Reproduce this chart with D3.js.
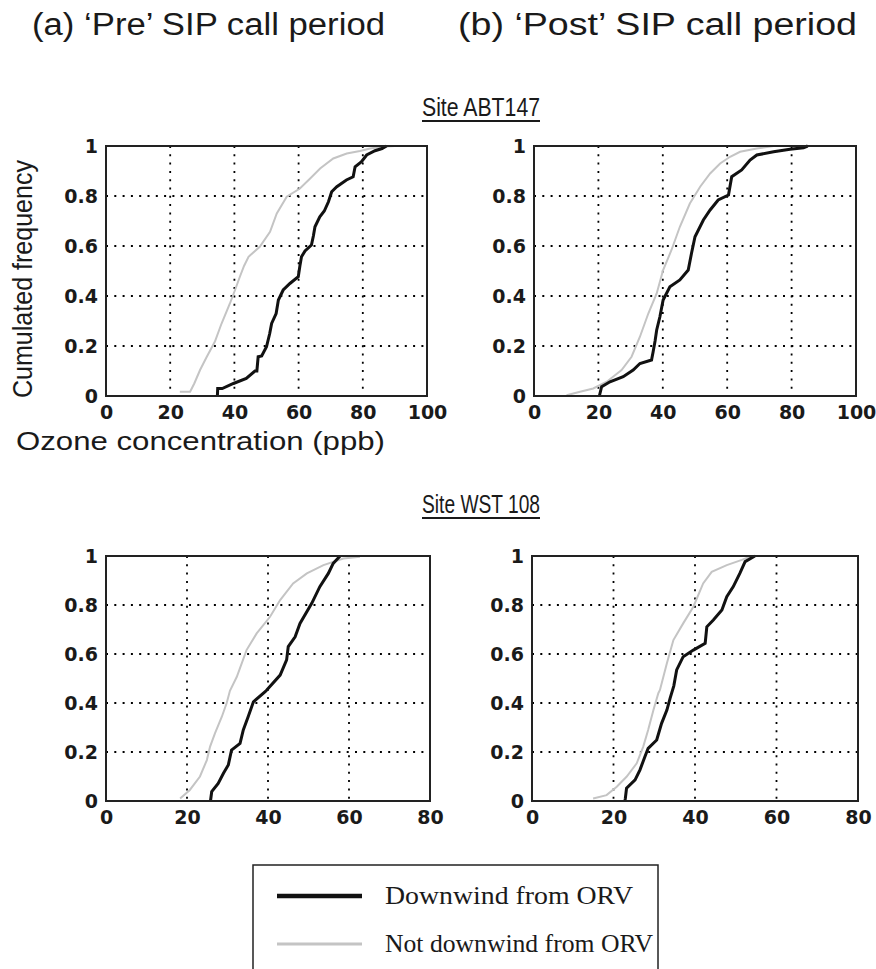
<!DOCTYPE html>
<html><head><meta charset="utf-8">
<script src="https://cdn.jsdelivr.net/npm/d3@7"></script>
<style>
html,body{margin:0;padding:0;background:#fff;}
svg{display:block;}
</style></head>
<body>
<svg id="chart" width="876" height="969"></svg>
<script>
// ---------- DATA ----------
const periodTitles = ["(a) \u2018Pre\u2019 SIP call period", "(b) \u2018Post\u2019 SIP call period"];
const siteTitles = ["Site ABT147", "Site WST 108"];
const seriesNames = ["Downwind from ORV", "Not downwind from ORV"];
const xTicksABT = [0, 20, 40, 60, 80, 100];
const xTicksWST = [0, 20, 40, 60, 80];
const yTicks = [0, 0.2, 0.4, 0.6, 0.8, 1];

// Cumulated frequency curves: [ozone ppb, cumulated frequency]
const preABT_down = [[34.7,0],[34.8,0.03],[36.2,0.03],[39.7,0.05],[43.7,0.07],[46.4,0.1],[47,0.1],[47.4,0.157],[48.5,0.16],[50,0.197],[51,0.25],[51.6,0.29],[53,0.33],[53.7,0.384],[55.2,0.424],[57.3,0.45],[59.9,0.477],[60.4,0.52],[60.9,0.557],[62,0.58],[64,0.604],[64.6,0.64],[65.1,0.677],[66.6,0.717],[68,0.74],[69.3,0.777],[70.3,0.817],[71.9,0.837],[74.9,0.864],[77,0.877],[77.6,0.917],[79.6,0.937],[81.2,0.964],[83.8,0.981],[86,0.99],[87.4,1]];
const preABT_not = [[23,0.017],[26.2,0.017],[27.5,0.05],[29.3,0.104],[31.4,0.157],[33.9,0.217],[36,0.29],[38.6,0.37],[40.2,0.424],[41.7,0.477],[43,0.52],[44.4,0.557],[47.9,0.597],[51.1,0.657],[53.2,0.73],[56.3,0.797],[60.4,0.83],[63.6,0.87],[66.7,0.91],[70.8,0.95],[75,0.97],[79.1,0.98],[82.3,0.99],[86,0.997],[90,1]];
const postABT_down = [[20.3,0],[21,0.037],[23.6,0.057],[27.7,0.077],[30.8,0.104],[32.9,0.13],[36.5,0.144],[37,0.177],[37.6,0.22],[38.1,0.264],[39.1,0.317],[40.1,0.384],[42.2,0.437],[45.3,0.464],[47.9,0.504],[48.9,0.57],[50,0.637],[52.6,0.704],[54.7,0.744],[57.2,0.784],[60.4,0.804],[61.4,0.877],[64.5,0.904],[67.1,0.944],[69.2,0.964],[74.4,0.977],[79.5,0.987],[83.7,0.993],[85,1]];
const postABT_not = [[10.1,0.003],[14.3,0.017],[18.4,0.03],[22.6,0.057],[27.2,0.104],[30.3,0.157],[32.9,0.237],[35.5,0.33],[38.1,0.41],[40.1,0.504],[42.7,0.584],[45.3,0.677],[48.4,0.77],[51.6,0.837],[54.7,0.89],[57.8,0.93],[60.9,0.957],[64,0.977],[69.2,0.99],[74.4,1]];
const preWST_down = [[25.8,0],[26.1,0.038],[27.7,0.072],[29,0.113],[30.2,0.147],[31,0.208],[33.1,0.235],[33.9,0.29],[35.1,0.344],[36.4,0.405],[39.3,0.446],[39.7,0.453],[43,0.514],[44.6,0.576],[45,0.63],[46.7,0.67],[47.9,0.725],[50.8,0.807],[52.8,0.875],[54.9,0.929],[56.1,0.97],[57.8,1]];
const preWST_not = [[18.3,0.01],[20.7,0.045],[23.2,0.1],[24.9,0.167],[25.7,0.222],[26.9,0.276],[28.6,0.344],[29.8,0.4],[30.6,0.45],[32.3,0.507],[34.7,0.616],[37.2,0.684],[40.5,0.752],[43,0.82],[46.2,0.888],[49.6,0.929],[53.7,0.963],[58.6,0.99],[62.7,0.997]];
const postWST_down = [[22.8,0],[22.9,0.01],[23.2,0.052],[25.3,0.086],[26.5,0.127],[27.7,0.181],[28.5,0.215],[30.6,0.249],[31.8,0.317],[33.1,0.371],[33.9,0.42],[34.8,0.47],[35.5,0.535],[37.1,0.589],[39.6,0.616],[42.5,0.644],[42.9,0.711],[44.5,0.739],[46.6,0.78],[47.8,0.834],[49.4,0.875],[51,0.929],[52.3,0.977],[54.7,1]];
const postWST_not = [[15,0.01],[18.3,0.024],[20.8,0.058],[23.2,0.099],[25.7,0.154],[27.3,0.222],[28.5,0.29],[29.8,0.371],[31,0.44],[31.4,0.453],[33.1,0.562],[34.7,0.657],[37.1,0.725],[39.6,0.793],[42,0.888],[44.1,0.935],[47.8,0.963],[51.5,0.984],[53.9,1]];

// ---------- LAYOUT ----------
const panels = [
  {x0:106, x1:427, y0:146, y1:396, xmax:100, ticks:xTicksABT, down:preABT_down, not:preABT_not},
  {x0:534, x1:856, y0:146, y1:396, xmax:100, ticks:xTicksABT, down:postABT_down, not:postABT_not},
  {x0:106, x1:430, y0:556, y1:801, xmax:80, ticks:xTicksWST, down:preWST_down, not:preWST_not},
  {x0:532, x1:858, y0:556, y1:801, xmax:80, ticks:xTicksWST, down:postWST_down, not:postWST_not}
];
const BLACK = "#111", GRAY = "#c4c4c4";
const svg = d3.select("#chart");
svg.append("rect").attr("width",876).attr("height",969).attr("fill","#fff");

panels.forEach(p => {
  const x = d3.scaleLinear().domain([0, p.xmax]).range([p.x0, p.x1]);
  const y = d3.scaleLinear().domain([0, 1]).range([p.y1, p.y0]);
  const g = svg.append("g");
  // grid
  g.selectAll(".vg").data(p.ticks.filter(t => t > 0 && t < p.xmax)).join("line")
    .attr("x1", d => x(d)).attr("x2", d => x(d)).attr("y1", p.y0).attr("y2", p.y1)
    .attr("stroke", "#000").attr("stroke-width", 1.8).attr("stroke-dasharray", "2,6.3");
  g.selectAll(".hg").data(yTicks.filter(t => t > 0 && t < 1)).join("line")
    .attr("x1", p.x0).attr("x2", p.x1).attr("y1", d => y(d)).attr("y2", d => y(d))
    .attr("stroke", "#000").attr("stroke-width", 1.8).attr("stroke-dasharray", "2,6.3");
  // curves
  const line = d3.line().x(d => x(d[0])).y(d => y(d[1]));
  g.append("path").datum(p.not).attr("d", line).attr("fill","none")
    .attr("stroke", GRAY).attr("stroke-width", 2);
  g.append("path").datum(p.down).attr("d", line).attr("fill","none")
    .attr("stroke", BLACK).attr("stroke-width", 3);
  // frame
  g.append("rect").attr("x", p.x0).attr("y", p.y0).attr("width", p.x1 - p.x0).attr("height", p.y1 - p.y0)
    .attr("fill","none").attr("stroke","#222").attr("stroke-width", 2);
  // axes labels
  const xa = d3.axisBottom(x).tickValues(p.ticks).tickSize(0).tickPadding(10).tickFormat(d3.format("d"));
  const gx = g.append("g").attr("transform", `translate(0,${p.y1})`).call(xa);
  const ya = d3.axisLeft(y).tickValues(yTicks).tickSize(0).tickPadding(8).tickFormat(d => d === 0 || d === 1 ? String(d) : d3.format(".1f")(d));
  const gy = g.append("g").attr("transform", `translate(${p.x0},0)`).call(ya);
  [gx, gy].forEach(a => {
    a.select(".domain").remove();
    a.selectAll("text").attr("font-family", "DejaVu Sans").attr("font-weight", "bold")
      .attr("font-size", 19).attr("fill", "#1a1a1a");
  });
});

// Titles
const titleFont = "Liberation Sans, Arial, sans-serif";
svg.append("text").attr("x", 32).attr("y", 35).attr("font-family", titleFont).attr("font-size", 31)
  .attr("textLength", 353).attr("lengthAdjust","spacingAndGlyphs").attr("fill","#1a1a1a").text(periodTitles[0]);
svg.append("text").attr("x", 458).attr("y", 35).attr("font-family", titleFont).attr("font-size", 31)
  .attr("textLength", 399).attr("lengthAdjust","spacingAndGlyphs").attr("fill","#1a1a1a").text(periodTitles[1]);

[[siteTitles[0], 116], [siteTitles[1], 513]].forEach(([t, yb]) => {
  svg.append("text").attr("x", 481).attr("y", yb).attr("text-anchor","middle")
    .attr("font-family", titleFont).attr("font-size", 26).attr("textLength", 118)
    .attr("lengthAdjust","spacingAndGlyphs").attr("fill","#1a1a1a").text(t);
  svg.append("line").attr("x1", 422).attr("x2", 540).attr("y1", yb + 5).attr("y2", yb + 5)
    .attr("stroke","#1a1a1a").attr("stroke-width", 1.8);
});

// Axis titles
svg.append("text").attr("transform","translate(32,279) rotate(-90)").attr("text-anchor","middle")
  .attr("font-family", titleFont).attr("font-size", 28).attr("textLength", 238)
  .attr("lengthAdjust","spacingAndGlyphs").attr("fill","#1a1a1a").text("Cumulated frequency");
svg.append("text").attr("x", 16).attr("y", 450).attr("font-family", titleFont).attr("font-size", 26)
  .attr("textLength", 369).attr("lengthAdjust","spacingAndGlyphs").attr("fill","#1a1a1a")
  .text("Ozone concentration (ppb)");

// Legend
const lg = svg.append("g");
lg.append("rect").attr("x", 253).attr("y", 865).attr("width", 405).attr("height", 120)
  .attr("fill","#fff").attr("stroke","#222").attr("stroke-width", 1.5);
const legItems = [{name: seriesNames[0], color: BLACK, w: 4.5, y: 896, tl: 248},
                  {name: seriesNames[1], color: GRAY, w: 3, y: 944, tl: 268}];
legItems.forEach(it => {
  lg.append("line").attr("x1", 277).attr("x2", 362).attr("y1", it.y).attr("y2", it.y)
    .attr("stroke", it.color).attr("stroke-width", it.w);
  lg.append("text").attr("x", 385).attr("y", it.y + 8).attr("font-family","Liberation Serif, Times New Roman, serif")
    .attr("font-size", 25).attr("textLength", it.tl).attr("lengthAdjust","spacingAndGlyphs")
    .attr("fill","#1a1a1a").text(it.name);
});
</script>
</body></html>
